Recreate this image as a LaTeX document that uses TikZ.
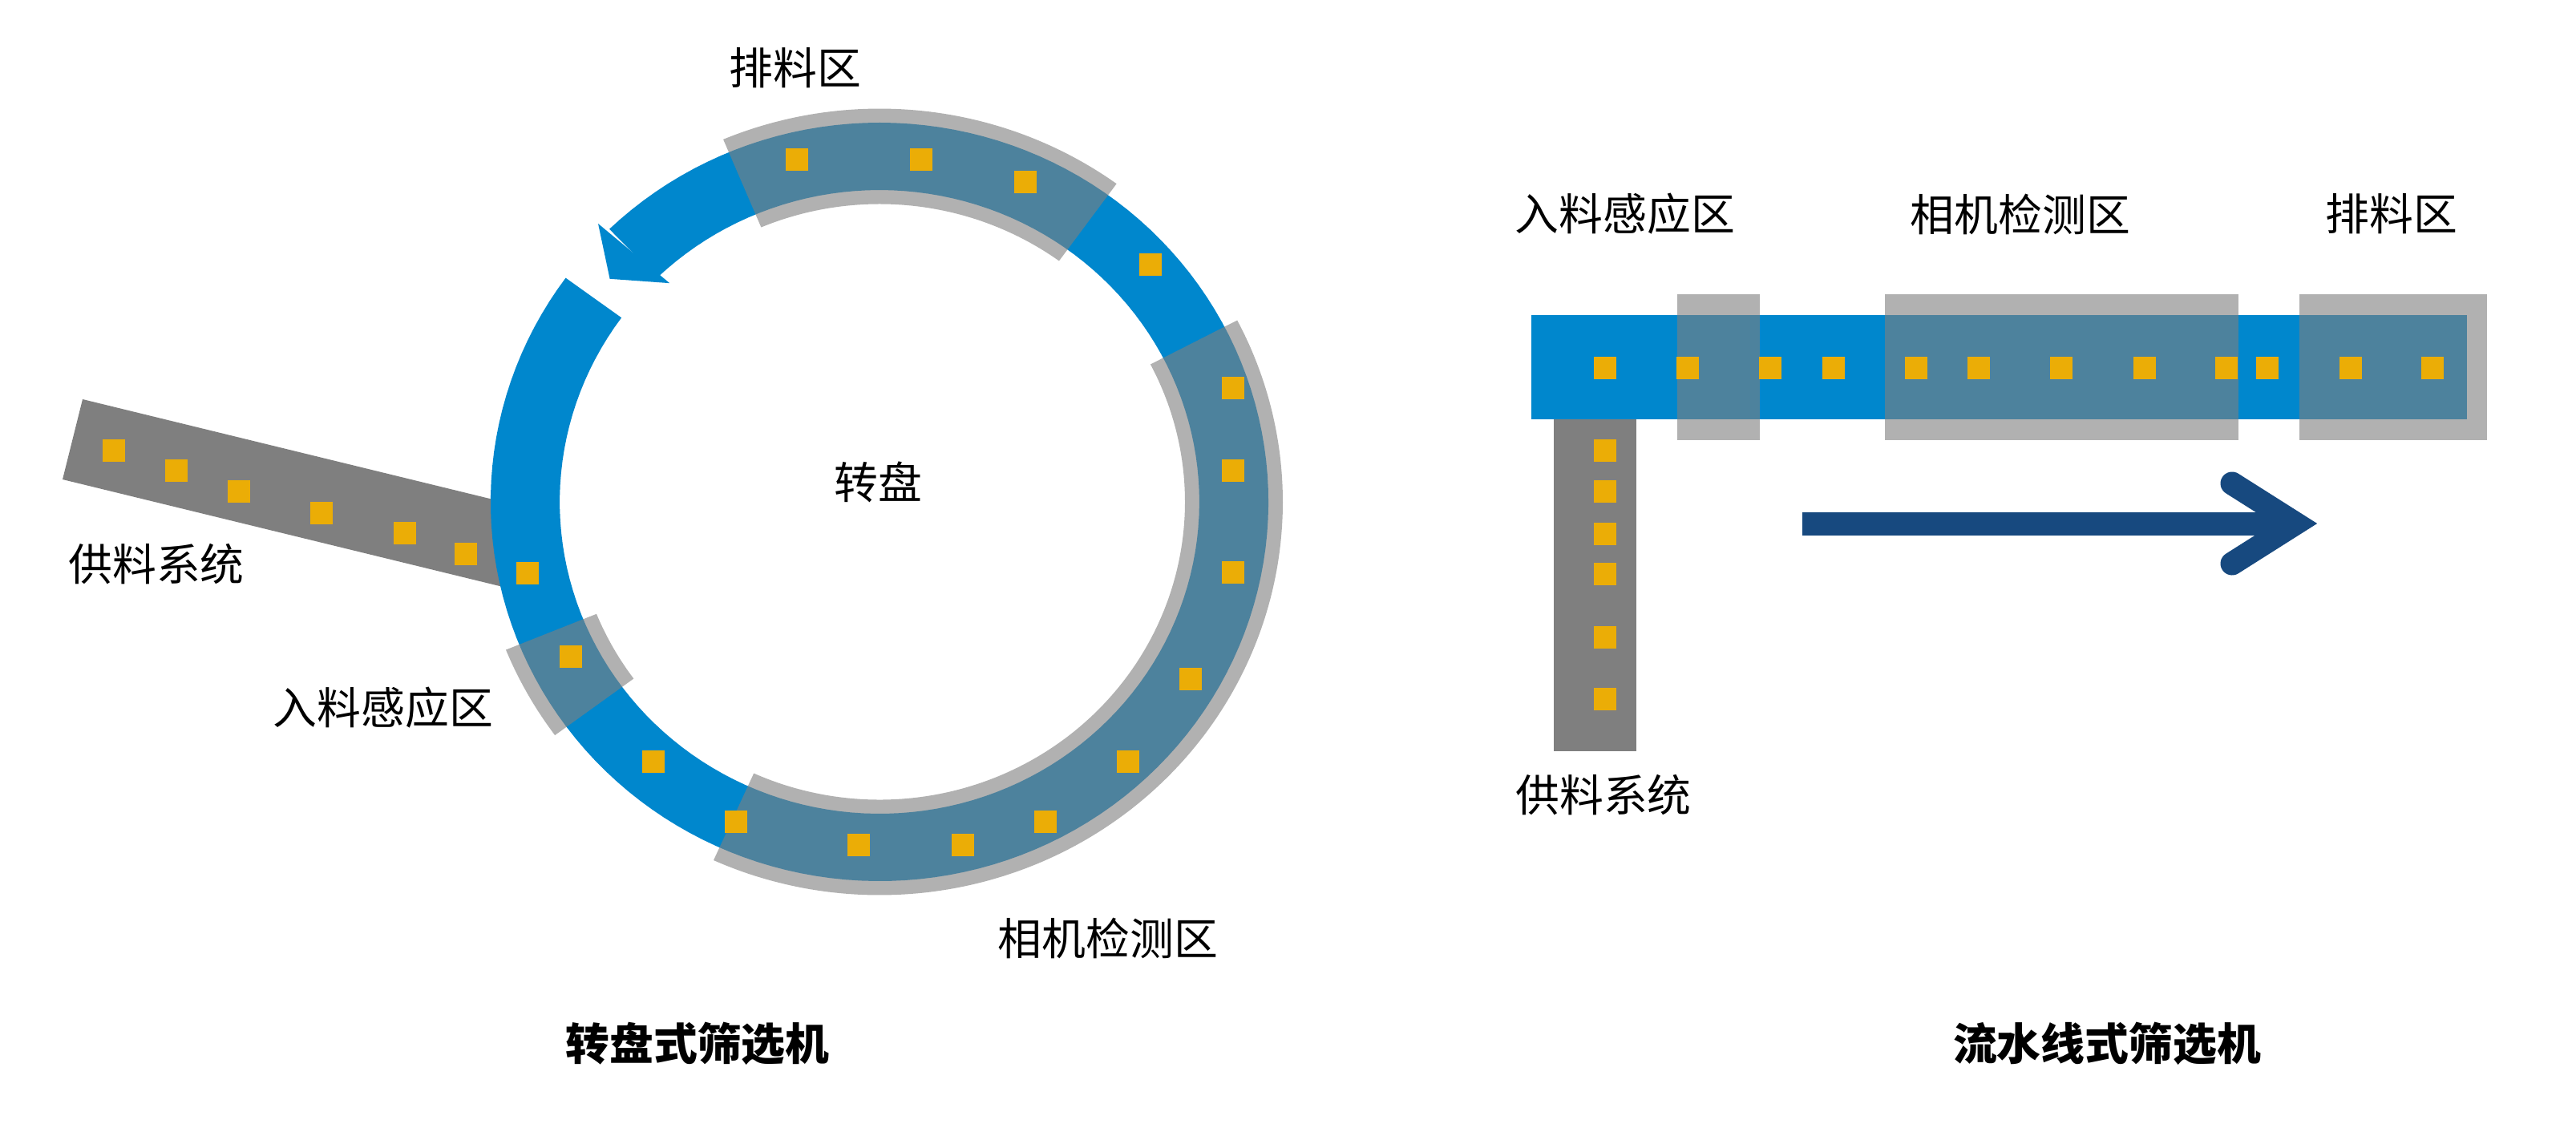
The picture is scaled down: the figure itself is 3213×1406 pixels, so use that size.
\documentclass[tikz,border=0pt]{standalone}
\usepackage{fontspec}
\newfontfamily\cjk{Noto Sans CJK SC}
\definecolor{ringblue}{RGB}{0,135,205}
\definecolor{feedgray}{RGB}{127,127,127}
\definecolor{dotyellow}{RGB}{235,173,6}
\definecolor{arrowblue}{RGB}{23,73,127}
% ring band on the ellipse centred (1097,626), radii 442 x 431 (pixel units)
\newcommand\ringseg[4]{plot[domain=#1:#2,samples=160,variable=\t]
  ({1097+442*#4*cos(\t)},{626+431*#4*sin(\t)}) --
  plot[domain=#2:#1,samples=160,variable=\t]
  ({1097+442*#3*cos(\t)},{626+431*#3*sin(\t)}) -- cycle}
\newcommand\ringpt[2]{({1097+442*#2*cos(#1)},{626+431*#2*sin(#1)})}
\tikzset{
  zone/.style={fill=feedgray,fill opacity=0.61},
  item/.style={rectangle,fill=dotyellow,draw=none,minimum size=0.28cm,inner sep=0pt},
  lbl/.style={font=\cjk\fontsize{15.6pt}{18pt}\selectfont,inner sep=0pt,text=black},
  ttl/.style={font=\cjk\bfseries\fontsize{15.6pt}{18pt}\selectfont,inner sep=0pt,text=black},
  feedbar/.style={fill=feedgray},
  flowarrow/.style={draw=arrowblue,line width=0.29cm},
}
\begin{document}
\begin{tikzpicture}[x=0.01cm,y=-0.01cm]
\useasboundingbox (0,0) rectangle (3213,1406);

% ---------------- left: turntable ----------------
% feed bar (under the ring)
\fill[feedbar] (103,498) -- (660,634) -- (660,740) -- (78,598) -- cycle;
% blue ring with arrow
\fill[ringblue] \ringseg{226}{576.2}{0.9025}{1.0975};
\fill[ringblue] \ringpt{225.4}{1.131} -- \ringpt{220.3}{0.998} -- \ringpt{226.9}{0.867} -- cycle;
% zones
\fill[zone] \ringseg{247.2}{306}{0.862}{1.138};
\fill[zone] \ringseg{332.5}{474.3}{0.862}{1.138};
\fill[zone] \ringseg{143.6}{157.9}{0.862}{1.138};

% feed items
\node[item] (f1) at (142,562) {};
\node[item] (f2) at (220,587) {};
\node[item] (f3) at (298,613) {};
\node[item] (f4) at (401,640) {};
\node[item] (f5) at (505,665) {};
\node[item] (f6) at (581,691) {};
% ring items
\node[item] (r1) at (994,199) {};
\node[item] (r2) at (1149,199) {};
\node[item] (r3) at (1279,227) {};
\node[item] (r4) at (1435,330) {};
\node[item] (r5) at (1538,484) {};
\node[item] (r6) at (1538,587) {};
\node[item] (r7) at (1538,714) {};
\node[item] (r8) at (1485,847) {};
\node[item] (r9) at (1407,950) {};
\node[item] (r10) at (1304,1025) {};
\node[item] (r11) at (1201,1054) {};
\node[item] (r12) at (1071,1054) {};
\node[item] (r13) at (918,1025) {};
\node[item] (r14) at (815,950) {};
\node[item] (r15) at (712,819) {};
\node[item] (r16) at (658,715) {};

% labels
\node[lbl] (lfeed) at (195,704) {供料系统};
\node[lbl] (lin) at (478,883) {入料感应区};
\node[lbl] (lout) at (992,85) {排料区};
\node[lbl] (ldisk) at (1095,601) {转盘};
\node[lbl] (lcam) at (1382,1170) {相机检测区};
\node[ttl] (t1) at (870,1302) {转盘式筛选机};

% ---------------- right: line conveyor ----------------
\fill[feedbar] (1938,500) rectangle (2041,937);
\fill[ringblue] (1910,393) rectangle (3077,523);
\fill[zone] (2092,367) rectangle (2195,549);
\fill[zone] (2351,367) rectangle (2792,549);
\fill[zone] (2868,367) rectangle (3102,549);

\foreach \px [count=\i] in {2002,2105,2208,2287,2390,2468,2571,2675,2777,2828,2932,3034}
  \node[item] (h\i) at (\px,459) {};
\foreach \py [count=\i] in {562,613,666,716,795,872}
  \node[item] (v\i) at (2002,\py) {};

% flow arrow
\coordinate (aS) at (2248,653);
\coordinate (aT) at (2863,653);
\coordinate (aU) at (2784,603);
\coordinate (aD) at (2784,703);
\draw[flowarrow] (aS) -- (aT);
\draw[flowarrow,line cap=round,line join=miter] (aU) -- (aT) -- (aD);

\node[lbl] (rin) at (2027,267) {入料感应区};
\node[lbl] (rcam) at (2520,267) {相机检测区};
\node[lbl] (rout) at (2983,267) {排料区};
\node[lbl] (rfeed) at (2000,992) {供料系统};
\node[ttl] (t2) at (2628,1302) {流水线式筛选机};
\end{tikzpicture}
\end{document}
